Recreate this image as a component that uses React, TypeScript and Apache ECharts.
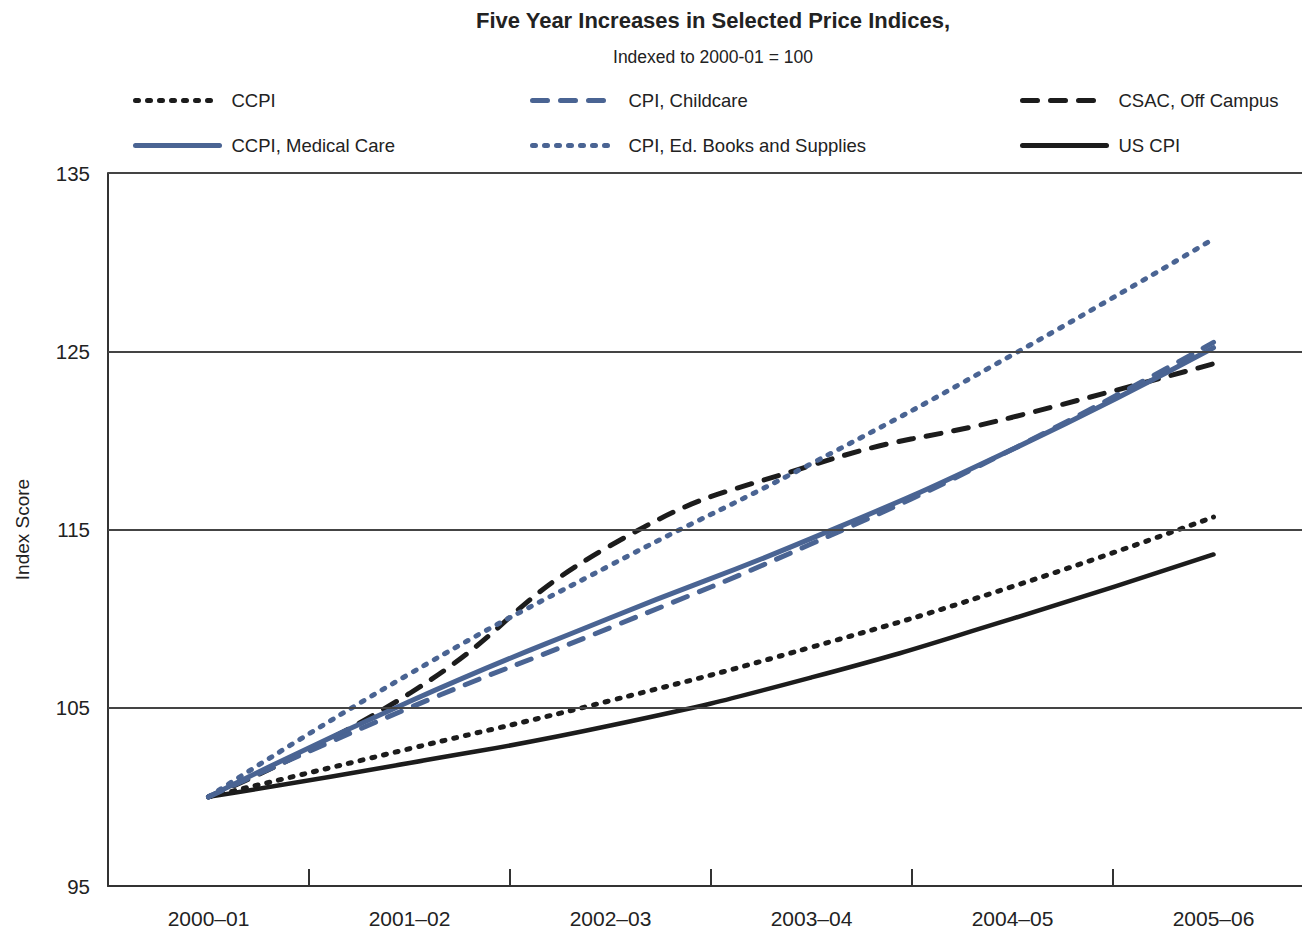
import React, { useEffect, useRef } from "react";
import * as echarts from "echarts";

const CATEGORIES = ["2000–01", "2001–02", "2002–03", "2003–04", "2004–05", "2005–06"];
const CCPI = [100, 102.7, 105.4, 108.4, 111.8, 115.7];
const CPI_CHILDCARE = [100, 105.0, 109.5, 114.2, 119.5, 125.5];
const CSAC_OFF_CAMPUS = [100, 105.8, 114.1, 118.6, 121.3, 124.3];
const CCPI_MEDICAL = [100, 105.35, 110.05, 114.5, 119.5, 125.2];
const CPI_ED_BOOKS = [100, 106.9, 113.0, 118.7, 124.8, 131.3];
const US_CPI = [100, 101.9, 104.0, 106.7, 110.0, 113.6];
const Y_LABELS = [95, 105, 115, 125, 135];
const GRID_LINES = [105, 115, 125, 135];

const FONT = "'Liberation Sans Narrow', 'Arial Narrow', 'Liberation Sans', sans-serif";
const BLUE = "#4a6493";
const BLACK = "#1c1c1c";
const DOT = [3, 9];
const DASH = [15, 13];

export default function App() {
  const ref = useRef<HTMLDivElement>(null);
  useEffect(() => {
    if (!ref.current) return;
    const chart = echarts.init(ref.current, null, { renderer: "svg" });

    const mkLegend = (name: string, left: number, top: number) => ({
      data: [name],
      left,
      top,
      orient: "horizontal",
      padding: 0,
      itemWidth: 84,
      itemHeight: 20,
      lineStyle: { width: 5 },
      itemStyle: { opacity: 0, color: "transparent", borderWidth: 0 },
      textStyle: { fontFamily: FONT, fontSize: 18.5, color: "#222", padding: [0, 0, 0, 7] },
    });

    const series = [
      {
        name: "US CPI",
        data: US_CPI,
        lineStyle: { color: BLACK, width: 4.5, type: "solid", cap: "round" },
        itemStyle: { color: BLACK },
        markLine: {
          silent: true,
          symbol: ["none", "none"],
          label: { show: false },
          lineStyle: { color: "#444", width: 2, type: "solid" },
          data: GRID_LINES.map((v) => ({ yAxis: v })),
        },
      },
      {
        name: "CCPI",
        data: CCPI,
        lineStyle: { color: BLACK, width: 5, type: DOT, cap: "round" },
        itemStyle: { color: BLACK },
      },
      {
        name: "CSAC, Off Campus",
        data: CSAC_OFF_CAMPUS,
        lineStyle: { color: BLACK, width: 5, type: DASH, cap: "round" },
        itemStyle: { color: BLACK },
      },
      {
        name: "CPI, Ed. Books and Supplies",
        data: CPI_ED_BOOKS,
        lineStyle: { color: BLUE, width: 5, type: DOT, cap: "round" },
        itemStyle: { color: BLUE },
      },
      {
        name: "CCPI, Medical Care",
        data: CCPI_MEDICAL,
        lineStyle: { color: BLUE, width: 5, type: "solid", cap: "round" },
        itemStyle: { color: BLUE },
      },
      {
        name: "CPI, Childcare",
        data: CPI_CHILDCARE,
        lineStyle: { color: BLUE, width: 5, type: DASH, cap: "round" },
        itemStyle: { color: BLUE },
      },
    ].map((s) => ({ ...s, type: "line", smooth: true, symbol: "none", showSymbol: false }));

    chart.setOption({
      animation: false,
      backgroundColor: "#ffffff",
      title: [
        {
          text: "Five Year Increases in Selected Price Indices,",
          left: 713,
          top: 9,
          textAlign: "center",
          padding: 0,
          textStyle: { fontFamily: FONT, fontSize: 22, fontWeight: "bold", color: "#222" },
        },
        {
          text: "Indexed to 2000-01 = 100",
          left: 713,
          top: 48,
          textAlign: "center",
          padding: 0,
          textStyle: { fontFamily: FONT, fontSize: 17.5, fontWeight: "normal", color: "#222" },
        },
      ],
      legend: [
        mkLegend("CCPI", 133, 91),
        mkLegend("CCPI, Medical Care", 133, 136),
        mkLegend("CPI, Childcare", 530, 91),
        mkLegend("CPI, Ed. Books and Supplies", 530, 136),
        mkLegend("CSAC, Off Campus", 1020, 91),
        mkLegend("US CPI", 1020, 136),
      ],
      grid: { left: 108, right: -12, top: 173, bottom: 45, containLabel: false, outerBoundsMode: "none" },
      xAxis: {
        type: "category",
        data: CATEGORIES,
        boundaryGap: true,
        axisLine: { show: true, lineStyle: { color: "#333", width: 2 } },
        axisTick: { show: true, inside: true, length: 17, interval: 0, lineStyle: { color: "#333", width: 2 } },
        axisLabel: { fontFamily: FONT, fontSize: 21, color: "#222", margin: 22, interval: 0 },
        splitLine: { show: false },
      },
      yAxis: {
        type: "value",
        min: 95,
        max: 135,
        interval: 5,
        name: "Index Score",
        nameLocation: "middle",
        nameGap: 76,
        nameTextStyle: { fontFamily: FONT, fontSize: 19, color: "#222" },
        axisLine: { show: true, lineStyle: { color: "#333", width: 2 } },
        axisTick: { show: false },
        axisLabel: {
          fontFamily: FONT,
          fontSize: 20.5,
          color: "#222",
          margin: 18,
          formatter: (v: number) => (Y_LABELS.includes(v) ? String(v) : ""),
        },
        splitLine: { show: false },
      },
      series,
    });
    return () => chart.dispose();
  }, []);
  return (
    <div
      ref={ref}
      style={{ position: "fixed", left: 0, top: 0, width: 1302, height: 931, background: "#fff" }}
    />
  );
}
